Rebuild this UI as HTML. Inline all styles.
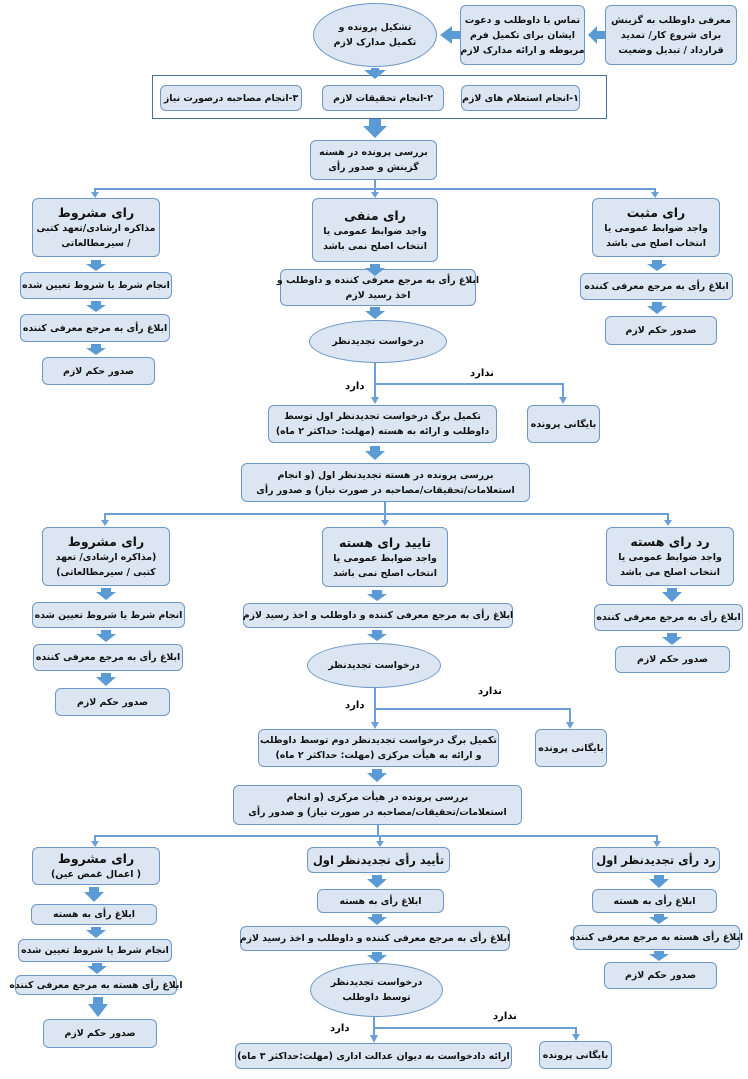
<!DOCTYPE html>
<html><head><meta charset="utf-8"><style>
body{margin:0;width:748px;height:1079px;background:#fff;position:relative;overflow:hidden;font-family:"DejaVu Sans","Liberation Sans",sans-serif;}
.b{position:absolute;box-sizing:border-box;background:#dce6f2;border:1.3px solid #6f96c6;border-radius:6px;display:flex;flex-direction:column;align-items:center;justify-content:center;text-align:center;direction:rtl;font-size:9.4px;line-height:15px;color:#111;font-weight:bold;white-space:nowrap;letter-spacing:-0.2px;}
.e{border-radius:50%;}
.t{font-size:12.5px;line-height:17px;}
.w{background:#fff;border-radius:0;border-color:#4a6f9c;}
.l{position:absolute;font-size:10px;direction:rtl;font-weight:bold;}
svg{position:absolute;left:0;top:0;}
</style></head><body>
<svg width="748" height="1079">
<g fill="#5b9bd5">
<polygon points="605,31 597,31 597,26 588,35 597,44 597,39 605,39"/>
<polygon points="460,31 452,31 452,26 440,35 452,44 452,39 460,39"/>
</g>
<g stroke="#6a9fd8" stroke-width="2" fill="none">
<polyline points="375,180 375,189"/><polyline points="95,196 95,189 655,189 655,196"/><line x1="375" y1="189" x2="375" y2="196"/>
<polyline points="375,363 375,402"/><polyline points="375,384 563,384 563,402"/>
<polyline points="385,502 385,514"/><polyline points="105,524 105,514 668,514 668,524"/><line x1="385" y1="514" x2="385" y2="524"/>
<polyline points="375,688 375,727"/><polyline points="375,709 570,709 570,727"/>
<polyline points="378,825 378,836"/><polyline points="95,845 95,836 657,836 657,845"/><line x1="380" y1="836" x2="380" y2="845"/>
<polyline points="374,1017 374,1040"/><polyline points="374,1028 576,1028 576,1039"/>
</g>
<g fill="#6a9fd8">
<polygon points="91,192 99,192 95,198"/><polygon points="371,192 379,192 375,198"/><polygon points="651,192 659,192 655,198"/>
<polygon points="371,397 379,397 375,404"/><polygon points="559,397 567,397 563,404"/>
<polygon points="101,520 109,520 105,526"/><polygon points="381,520 389,520 385,526"/><polygon points="664,520 672,520 668,526"/>
<polygon points="371,722 379,722 375,729"/><polygon points="566,722 574,722 570,729"/>
<polygon points="91,841 99,841 95,847"/><polygon points="376,841 384,841 380,847"/><polygon points="653,841 661,841 657,847"/>
<polygon points="370,1035 378,1035 374,1043"/><polygon points="572,1034 580,1034 576,1041"/>
</g>
</svg>
<div class="b" style="left:605px;top:5px;width:132px;height:60px;">معرفی داوطلب به گزینش<br>برای شروع کار/ تمدید<br>قرارداد / تبدیل وضعیت</div>
<div class="b" style="left:460px;top:5px;width:125px;height:60px;">تماس با داوطلب و دعوت<br>ایشان برای تکمیل فرم<br>مربوطه و ارائه مدارک لازم</div>
<div class="b e" style="left:313px;top:3px;width:124px;height:64px;">تشکیل پرونده و<br>تکمیل مدارک لازم</div>
<div class="b w" style="left:152px;top:75px;width:455px;height:44px;"></div>
<div class="b" style="left:461px;top:85px;width:119px;height:26px;">۱-انجام استعلام های لازم</div>
<div class="b" style="left:322px;top:85px;width:122px;height:26px;">۲-انجام تحقیقات لازم</div>
<div class="b" style="left:160px;top:85px;width:142px;height:26px;">۳-انجام مصاحبه درصورت نیاز</div>
<div class="b" style="left:310px;top:140px;width:127px;height:40px;">بررسی پرونده در هسته<br>گزینش و صدور رأی</div>

<div class="b" style="left:32px;top:198px;width:128px;height:59px;"><span class="t">رای مشروط</span>مذاکره ارشادی/تعهد کتبی<br>/ سیرمطالعاتی</div>
<div class="b" style="left:312px;top:198px;width:126px;height:64px;"><span class="t">رای منفی</span>واجد ضوابط عمومی یا<br>انتخاب اصلح نمی باشد</div>
<div class="b" style="left:592px;top:198px;width:128px;height:59px;"><span class="t">رای مثبت</span>واجد ضوابط عمومی یا<br>انتخاب اصلح می باشد</div>
<div class="b" style="left:20px;top:272px;width:152px;height:27px;">انجام شرط یا شروط تعیین شده</div>
<div class="b" style="left:20px;top:314px;width:150px;height:28px;">ابلاغ رأی به مرجع معرفی کننده</div>
<div class="b" style="left:42px;top:357px;width:113px;height:28px;">صدور حکم لازم</div>
<div class="b" style="left:280px;top:269px;width:196px;height:37px;">ابلاغ رأی به مرجع معرفی کننده و داوطلب و<br>اخذ رسید لازم</div>
<div class="b e" style="left:309px;top:320px;width:138px;height:43px;">درخواست تجدیدنظر</div>
<div class="b" style="left:580px;top:273px;width:153px;height:27px;">ابلاغ رأی به مرجع معرفی کننده</div>
<div class="b" style="left:605px;top:316px;width:112px;height:29px;">صدور حکم لازم</div>
<div class="l" style="left:470px;top:368px;">ندارد</div>
<div class="l" style="left:345px;top:381px;">دارد</div>
<div class="b" style="left:268px;top:405px;width:229px;height:38px;">تکمیل برگ درخواست تجدیدنظر اول توسط<br>داوطلب و ارائه به هسته (مهلت: حداکثر ۲ ماه)</div>
<div class="b" style="left:527px;top:405px;width:73px;height:38px;">بایگانی پرونده</div>
<div class="b" style="left:241px;top:463px;width:289px;height:39px;">بررسی پرونده در هسته تجدیدنظر اول (و انجام<br>استعلامات/تحقیقات/مصاحبه در صورت نیاز) و صدور رأی</div>

<div class="b" style="left:42px;top:527px;width:128px;height:59px;"><span class="t">رای مشروط</span>(مذاکره ارشادی/ تعهد<br>کتبی / سیرمطالعاتی)</div>
<div class="b" style="left:322px;top:527px;width:126px;height:60px;"><span class="t">تایید رای هسته</span>واجد ضوابط عمومی یا<br>انتخاب اصلح نمی باشد</div>
<div class="b" style="left:606px;top:527px;width:128px;height:59px;"><span class="t">رد رای هسته</span>واجد ضوابط عمومی یا<br>انتخاب اصلح می باشد</div>
<div class="b" style="left:32px;top:602px;width:153px;height:26px;">انجام شرط یا شروط تعیین شده</div>
<div class="b" style="left:33px;top:644px;width:150px;height:27px;">ابلاغ رأی به مرجع معرفی کننده</div>
<div class="b" style="left:55px;top:688px;width:115px;height:28px;">صدور حکم لازم</div>
<div class="b" style="left:243px;top:603px;width:270px;height:25px;">ابلاغ رأی به مرجع معرفی کننده و داوطلب و اخذ رسید لازم</div>
<div class="b e" style="left:307px;top:643px;width:134px;height:45px;">درخواست تجدیدنظر</div>
<div class="b" style="left:594px;top:604px;width:149px;height:27px;">ابلاغ رأی به مرجع معرفی کننده</div>
<div class="b" style="left:615px;top:646px;width:115px;height:27px;">صدور حکم لازم</div>
<div class="l" style="left:478px;top:686px;">ندارد</div>
<div class="l" style="left:345px;top:700px;">دارد</div>
<div class="b" style="left:258px;top:729px;width:241px;height:38px;">تکمیل برگ درخواست تجدیدنظر دوم توسط داوطلب<br>و ارائه به هیأت مرکزی (مهلت: حداکثر ۲ ماه)</div>
<div class="b" style="left:535px;top:729px;width:72px;height:38px;">بایگانی پرونده</div>
<div class="b" style="left:233px;top:785px;width:289px;height:40px;">بررسی پرونده در هیأت مرکزی (و انجام<br>استعلامات/تحقیقات/مصاحبه در صورت نیاز) و صدور رأی</div>

<div class="b" style="left:32px;top:847px;width:128px;height:38px;"><span class="t">رای مشروط</span>( اعمال غمض عین)</div>
<div class="b" style="left:307px;top:847px;width:143px;height:26px;"><span class="t" style="font-size:11.5px">تأیید رأی تجدیدنظر اول</span></div>
<div class="b" style="left:592px;top:847px;width:128px;height:26px;"><span class="t" style="font-size:11.5px">رد رأی تجدیدنظر اول</span></div>
<div class="b" style="left:31px;top:904px;width:126px;height:21px;">ابلاغ رأی به هسته</div>
<div class="b" style="left:18px;top:939px;width:154px;height:23px;">انجام شرط یا شروط تعیین شده</div>
<div class="b" style="left:15px;top:975px;width:162px;height:20px;">ابلاغ رأی هسته به مرجع معرفی کننده</div>
<div class="b" style="left:43px;top:1019px;width:114px;height:29px;">صدور حکم لازم</div>
<div class="b" style="left:317px;top:889px;width:127px;height:24px;">ابلاغ رأی به هسته</div>
<div class="b" style="left:240px;top:926px;width:270px;height:25px;">ابلاغ رأی به مرجع معرفی کننده و داوطلب و اخذ رسید لازم</div>
<div class="b e" style="left:310px;top:963px;width:133px;height:54px;">درخواست تجدیدنظر<br>توسط داوطلب</div>
<div class="l" style="left:493px;top:1011px;">ندارد</div>
<div class="l" style="left:330px;top:1023px;">دارد</div>
<div class="b" style="left:235px;top:1043px;width:277px;height:26px;">ارائه دادخواست به دیوان عدالت اداری (مهلت:حداکثر ۳ ماه)</div>
<div class="b" style="left:539px;top:1041px;width:73px;height:28px;">بایگانی پرونده</div>
<div class="b" style="left:592px;top:889px;width:125px;height:24px;">ابلاغ رأی به هسته</div>
<div class="b" style="left:573px;top:925px;width:167px;height:25px;">ابلاغ رأی هسته به مرجع معرفی کننده</div>
<div class="b" style="left:604px;top:962px;width:113px;height:27px;">صدور حکم لازم</div>

<svg width="748" height="1079"><g fill="#5b9bd5">
<polygon points="371,68 379,68 379,70 386,70 375,79 364,70 371,70"/>
<polygon points="369,119 381,119 381,126 387,126 375,138 363,126 369,126"/>
<polygon points="91,260 101,260 101,264 106,264 96,271 86,264 91,264"/>
<polygon points="91,301 101,301 101,305 106,305 96,312 86,305 91,305"/>
<polygon points="91,344 101,344 101,348 106,348 96,355 86,348 91,348"/>
<polygon points="370,264 380,264 380,268 385,268 375,276 365,268 370,268"/>
<polygon points="370,307 380,307 380,311 385,311 375,319 365,311 370,311"/>
<polygon points="652,260 662,260 662,264 667,264 657,271 647,264 652,264"/>
<polygon points="652,302 662,302 662,306 667,306 657,314 647,306 652,306"/>
<polygon points="370,446 380,446 380,451 385,451 375,460 365,451 370,451"/>
<polygon points="101,588 111,588 111,592 116,592 106,600 96,592 101,592"/>
<polygon points="101,630 111,630 111,634 116,634 106,642 96,634 101,634"/>
<polygon points="101,673 111,673 111,677 116,677 106,686 96,677 101,677"/>
<polygon points="372,590 382,590 382,594 387,594 377,601 367,594 372,594"/>
<polygon points="372,630 382,630 382,634 387,634 377,641 367,634 372,634"/>
<polygon points="667,588 677,588 677,592 682,592 672,602 662,592 667,592"/>
<polygon points="667,633 677,633 677,637 682,637 672,645 662,637 667,637"/>
<polygon points="372,769 382,769 382,773 387,773 377,782 367,773 372,773"/>
<polygon points="89,887 99,887 99,892 104,892 94,902 84,892 89,892"/>
<polygon points="91,927 101,927 101,930 106,930 96,938 86,930 91,930"/>
<polygon points="92,963 102,963 102,966 107,966 97,974 87,966 92,966"/>
<polygon points="93,997 103,997 103,1004 108,1004 98,1017 88,1004 93,1004"/>
<polygon points="372,875 382,875 382,879 387,879 377,888 367,879 372,879"/>
<polygon points="372,914 382,914 382,917 387,917 377,925 367,917 372,917"/>
<polygon points="372,952 382,952 382,955 387,955 377,963 367,955 372,955"/>
<polygon points="654,875 664,875 664,879 669,879 659,888 649,879 654,879"/>
<polygon points="654,914 664,914 664,917 669,917 659,924 649,917 654,917"/>
<polygon points="654,951 664,951 664,954 669,954 659,961 649,954 654,954"/>
</g></svg>
</body></html>
